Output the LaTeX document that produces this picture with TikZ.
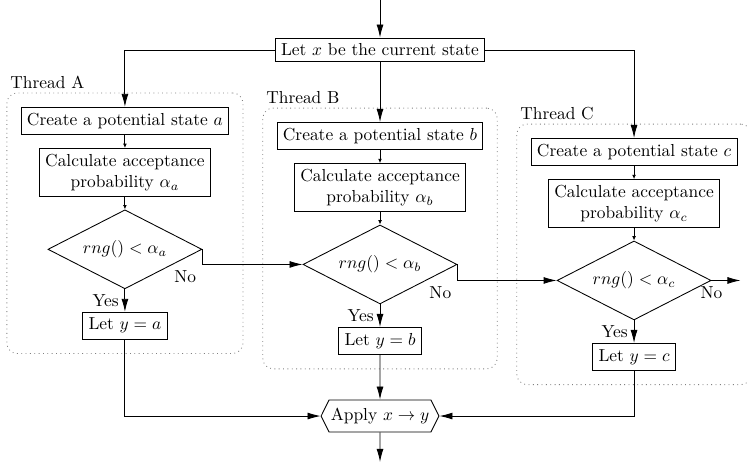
\documentclass[tikz,border=0pt]{standalone}
\usetikzlibrary{shapes.geometric, shapes.symbols, arrows.meta, positioning, fit}
\tikzset{
  stepbox/.style={rectangle, draw, inner sep=3.33pt},
  calcbox/.style={stepbox, align=center},
  testbox/.style={diamond, draw, aspect=2, inner sep=1pt,
              minimum width=88.5pt, minimum height=45.4pt},
  applybox/.style={signal, signal to=west and east, draw, inner xsep=1pt,
              minimum height=18.4pt, signal pointer angle=127},
  threadbox/.style={rectangle, draw=gray, dotted, rounded corners=6pt, inner sep=8pt},
  threadlbl/.style={anchor=south west, inner sep=2pt},
  flow/.style={-{Latex[length=7.5pt, width=4pt]}},
  flowsmall/.style={-{Latex[length=2.5pt, width=2.2pt]}},
}
\begin{document}
\begin{tikzpicture}[x=1pt, y=1pt, node distance=7pt, line width=0.5pt]
  \useasboundingbox (0,0) rectangle (429.9,-265.5);
  \coordinate (in) at (218.4,0);
  \node[stepbox] (state) at (218.4,-28.7) {Let $x$ be the current state};
  % thread A
  \node[stepbox] (createA) at (71.8,-69.5) {Create a potential state $a$};
  \node[calcbox, below=7.5pt of createA] (calcA) {Calculate acceptance\\probability $\alpha_a$};
  \node[testbox, below=of calcA] (testA) {$rng() < \alpha_a$};
  \node[stepbox, below=13pt of testA] (letA) {Let $y = a$};
  \node[threadbox, fit=(createA)(letA)] (threadA) {};
  \node[threadlbl] at (threadA.north west) {Thread A};
  % thread B
  \node[stepbox] (createB) at (218.4,-78.2) {Create a potential state $b$};
  \node[calcbox, below=7.5pt of createB] (calcB) {Calculate acceptance\\probability $\alpha_b$};
  \node[testbox, below=of calcB] (testB) {$rng() < \alpha_b$};
  \node[stepbox, below=13pt of testB] (letB) {Let $y = b$};
  \node[threadbox, fit=(createB)(letB)] (threadB) {};
  \node[threadlbl] at (threadB.north west) {Thread B};
  % thread C
  \node[stepbox] (createC) at (364.4,-87.4) {Create a potential state $c$};
  \node[calcbox, below=7.5pt of createC] (calcC) {Calculate acceptance\\probability $\alpha_c$};
  \node[testbox, below=of calcC] (testC) {$rng() < \alpha_c$};
  \node[stepbox, below=13pt of testC] (letC) {Let $y = c$};
  \node[threadbox, fit=(createC)(letC)] (threadC) {};
  \node[threadlbl] at (threadC.north west) {Thread C};
  \coordinate[right=16.7pt of testC.east] (exitC);
  % result
  \node[applybox] (apply) at (218.4,-239.1) {Apply $x \to y$};
  \coordinate (out) at (218.4,-265.5);

  \draw[flow] (in) -- (state);
  \draw[flow] (state.west) -| (createA.north);
  \draw[flow] (state) -- (createB);
  \draw[flow] (state.east) -| (createC.north);
  \draw[flowsmall] (createA) -- (calcA);
  \draw[flowsmall] (calcA) -- (testA);
  \draw[flow] (testA) -- node[left] {Yes} (letA);
  \draw[flow] (testA.east) |- node[pos=0.5, below left] {No} (testB.west);
  \draw[flowsmall] (createB) -- (calcB);
  \draw[flowsmall] (calcB) -- (testB);
  \draw[flow] (testB) -- node[left] {Yes} (letB);
  \draw[flow] (testB.east) |- node[pos=0.5, below left] {No} (testC.west);
  \draw[flowsmall] (createC) -- (calcC);
  \draw[flowsmall] (calcC) -- (testC);
  \draw[flow] (testC) -- node[left] {Yes} (letC);
  \draw[flow] (testC.east) node[below] {No} -- (exitC);
  \draw[flow] (letA) |- (apply.west);
  \draw[flow] (letB) -- (apply);
  \draw[flow] (letC) |- (apply.east);
  \draw[flow] (apply) -- (out);
\end{tikzpicture}
\end{document}
